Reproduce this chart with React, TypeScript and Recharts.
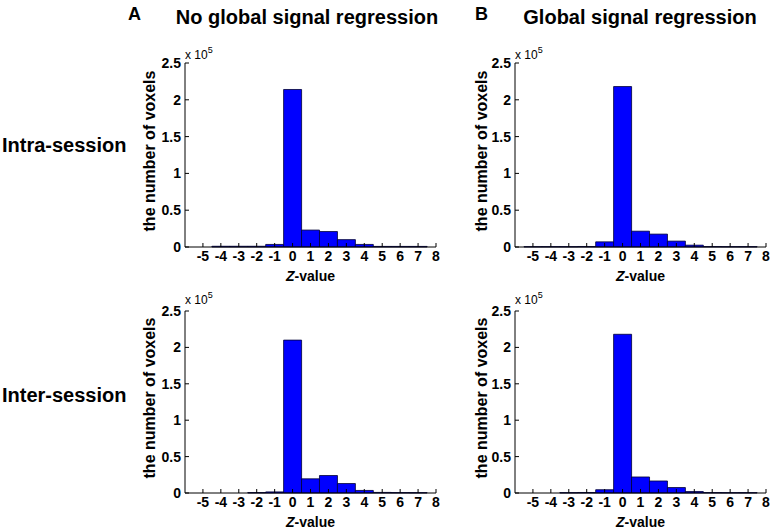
import React from 'react';
import { BarChart, Bar, XAxis, YAxis } from 'recharts';

// Histogram bins (Z-value centres)
const zBins = [-5, -4, -3, -2, -1, 0, 1, 2, 3, 4, 5, 6, 7];
const xTicks = [-5, -4, -3, -2, -1, 0, 1, 2, 3, 4, 5, 6, 7, 8];
const yTicks = [0, 50000, 100000, 150000, 200000, 250000];
const yTickLabels = ['0', '0.5', '1', '1.5', '2', '2.5'];

// Number of voxels per bin
const intraNoGSR = [0, 1000, 1000, 1000, 3500, 214000, 23000, 21000, 10000, 3500, 800, 800, 800];
const intraGSR = [500, 500, 500, 700, 7000, 218000, 21500, 17500, 8000, 2500, 600, 500, 500];
const interNoGSR = [0, 0, 0, 600, 1500, 210000, 19500, 24000, 13000, 3500, 800, 600, 500];
const interGSR = [0, 0, 500, 700, 4500, 218000, 22000, 16500, 7500, 2000, 600, 500, 500];

const columnTitles = ['No global signal regression', 'Global signal regression'];
const panelLetters = ['A', 'B'];
const rowTitles = ['Intra-session', 'Inter-session'];
const yLabel = 'the number of voxels';

const FONT = '"Liberation Sans", Arial, Helvetica, sans-serif';

const COLS = [
  { left: 185, width: 251, ylabOff: 36 },
  { left: 515, width: 251, ylabOff: 34 },
];
const ROWS = [
  { top: 63, height: 184, expBase: 58.5 },
  { top: 311, height: 182, expBase: 303.5 },
];

const ML = 50;
const MT = 20;
const MR = 10;
const XH = 40;

function Panel({ values, col, row }: { values: number[]; col: number; row: number }) {
  const c = COLS[col];
  const r = ROWS[row];
  const data = zBins.map((z, i) => ({ z, count: values[i] }));
  const tickStyle = { fill: '#000', fontSize: 14, fontFamily: FONT, fontWeight: 'bold' as const };
  return (
    <div style={{ position: 'absolute', left: c.left - ML, top: r.top - MT }}>
      <BarChart
        width={ML + c.width + MR}
        height={MT + r.height + XH}
        data={data}
        margin={{ top: MT, right: MR, bottom: 0, left: 0 }}
        barCategoryGap={0}
        barGap={0}
      >
        <XAxis
          xAxisId="b"
          dataKey="z"
          type="number"
          domain={[-6, 8]}
          ticks={xTicks}
          interval={0}
          height={XH}
          tickSize={-4}
          tickMargin={8}
          axisLine={{ stroke: '#000', strokeWidth: 1 }}
          tickLine={{ stroke: '#000' }}
          tick={tickStyle}
          label={(p: any) => {
            const vb = p.viewBox;
            return (
              <text
                x={vb.x + vb.width / 2}
                y={vb.y + 29}
                textAnchor="middle"
                dominantBaseline="central"
                fontFamily={FONT}
                fontWeight="bold"
                fontSize={14}
                fill="#000"
              >
                <tspan fontStyle="italic">Z</tspan>-value
              </text>
            );
          }}
        />
        <XAxis
          xAxisId="t"
          orientation="top"
          dataKey="z"
          type="number"
          domain={[-6, 8]}
          ticks={xTicks}
          interval={0}
          height={0}
          tickSize={-4}
          tick={false}
          axisLine={{ stroke: '#000', strokeWidth: 1 }}
          tickLine={{ stroke: '#000' }}
        />
        <YAxis
          yAxisId="l"
          type="number"
          domain={[0, 250000]}
          ticks={yTicks}
          interval={0}
          width={ML}
          tickSize={-4}
          tickMargin={8}
          axisLine={{ stroke: '#000', strokeWidth: 1 }}
          tickLine={{ stroke: '#000' }}
          tick={tickStyle}
          tickFormatter={(v: number) => yTickLabels[yTicks.indexOf(v)]}
          label={(p: any) => {
            const vb = p.viewBox;
            const cx = vb.x + vb.width - c.ylabOff;
            const cy = vb.y + vb.height / 2 - 4;
            return (
              <text
                x={cx}
                y={cy}
                transform={`rotate(-90 ${cx} ${cy})`}
                textAnchor="middle"
                dominantBaseline="central"
                fontFamily={FONT}
                fontWeight="bold"
                fontSize={16}
                fill="#000"
              >
                {yLabel}
              </text>
            );
          }}
        />
        <YAxis
          yAxisId="r"
          orientation="right"
          type="number"
          domain={[0, 250000]}
          ticks={yTicks}
          interval={0}
          width={0}
          tickSize={-4}
          tick={false}
          axisLine={{ stroke: '#000', strokeWidth: 1 }}
          tickLine={{ stroke: '#000' }}
        />
        <Bar
          xAxisId="b"
          yAxisId="l"
          dataKey="count"
          fill="#0000ff"
          stroke="#000033"
          strokeWidth={0.8}
          isAnimationActive={false}
        />
      </BarChart>
    </div>
  );
}

export default function App() {
  return (
    <div
      style={{
        position: 'absolute',
        left: 0,
        top: 0,
        width: 773,
        height: 532,
        background: '#fff',
        overflow: 'hidden',
        fontFamily: FONT,
      }}
    >
      <Panel values={intraNoGSR} col={0} row={0} />
      <Panel values={intraGSR} col={1} row={0} />
      <Panel values={interNoGSR} col={0} row={1} />
      <Panel values={interGSR} col={1} row={1} />
      <svg
        width={773}
        height={532}
        style={{ position: 'absolute', left: 0, top: 0, pointerEvents: 'none' }}
      >
        <text x={128} y={19.5} fontFamily={FONT} fontWeight="bold" fontSize={18} fill="#000">
          {panelLetters[0]}
        </text>
        <text x={475} y={19.5} fontFamily={FONT} fontWeight="bold" fontSize={18} fill="#000">
          {panelLetters[1]}
        </text>
        <text x={307} y={23.5} textAnchor="middle" fontFamily={FONT} fontWeight="bold" fontSize={20} fill="#000">
          {columnTitles[0]}
        </text>
        <text x={640} y={23.5} textAnchor="middle" fontFamily={FONT} fontWeight="bold" fontSize={20} fill="#000">
          {columnTitles[1]}
        </text>
        <text x={2} y={152} fontFamily={FONT} fontWeight="bold" fontSize={20} fill="#000">
          {rowTitles[0]}
        </text>
        <text x={2} y={402} fontFamily={FONT} fontWeight="bold" fontSize={20} fill="#000">
          {rowTitles[1]}
        </text>
        {ROWS.map((r, ri) =>
          COLS.map((c, ci) => (
            <text key={`${ri}-${ci}`} x={c.left} y={r.expBase} fontFamily={FONT} fontSize={12} fill="#000">
              x 10
              <tspan dy={-6} fontSize={9}>
                5
              </tspan>
            </text>
          ))
        )}
      </svg>
    </div>
  );
}
